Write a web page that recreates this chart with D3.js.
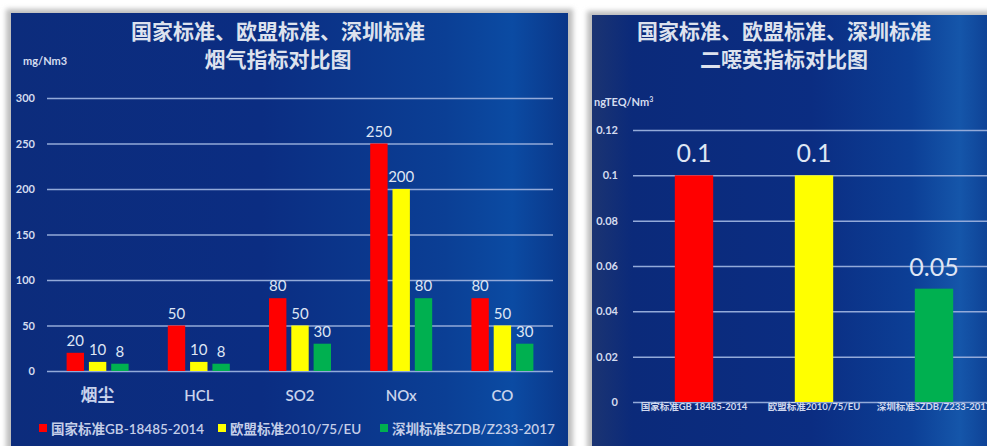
<!DOCTYPE html>
<html>
<head>
<meta charset="utf-8">
<script src="https://cdn.jsdelivr.net/npm/d3@7"></script>
<style>
  body { margin: 0; background: #ffffff; }
  svg { display: block; }
  text { font-family: "Lato", "Noto Sans CJK SC", sans-serif; }
</style>
</head>
<body>
<svg id="chart" width="987" height="446"></svg>
<script>
// flue gas chart data
const categories = ["烟尘", "HCL", "SO2", "NOx", "CO"];
const seriesNames = ["国家标准GB-18485-2014", "欧盟标准2010/75/EU", "深圳标准SZDB/Z233-2017"];
const nationalValues = [20, 50, 80, 250, 80];
const euValues = [10, 10, 50, 200, 50];
const shenzhenValues = [8, 8, 30, 80, 30];
const flueTicks = [0, 50, 100, 150, 200, 250, 300];

// dioxin chart data
const dioxinCategories = ["国家标准GB 18485-2014", "欧盟标准2010/75/EU", "深圳标准SZDB/Z233-2017"];
const dioxinValues = [0.1, 0.1, 0.05];
const dioxinTicks = [0, 0.02, 0.04, 0.06, 0.08, 0.1, 0.12];

const colors = ["#ff0000", "#ffff00", "#00b050"];
const gridColor = "#93aad9";
const labelColor = "#dfe6f4";

const svg = d3.select("#chart");
const defs = svg.append("defs");

// slide-like backgrounds
const bgLeft = defs.append("linearGradient").attr("id", "bgLeft");
[[0, "#0c2c7c"], [0.45, "#0b2d82"], [0.78, "#0b3f95"], [0.9, "#0b4ba3"], [1, "#0a3688"]]
  .forEach(([o, c]) => bgLeft.append("stop").attr("offset", o).attr("stop-color", c));
const bgRight = defs.append("linearGradient").attr("id", "bgRight");
[[0, "#1b3472"], [0.1, "#0b2a7a"], [0.55, "#0b2d82"], [0.8, "#0c3f96"], [0.92, "#1556aa"], [1, "#0d3f93"]]
  .forEach(([o, c]) => bgRight.append("stop").attr("offset", o).attr("stop-color", c));

const blur = defs.append("filter").attr("id", "shadow");
blur.append("feGaussianBlur").attr("stdDeviation", 2.5);

svg.append("rect").attr("x", 6).attr("y", 9).attr("width", 567).attr("height", 445)
  .attr("fill", "#bdbdbd").attr("filter", "url(#shadow)");
svg.append("rect").attr("x", 587).attr("y", 11).attr("width", 410).attr("height", 445)
  .attr("fill", "#bdbdbd").attr("filter", "url(#shadow)");
svg.append("rect").attr("x", 11).attr("y", 13).attr("width", 557).attr("height", 440)
  .attr("fill", "url(#bgLeft)");
svg.append("rect").attr("x", 592).attr("y", 15).attr("width", 400).attr("height", 440)
  .attr("fill", "url(#bgRight)");

function drawTitle(cx, line2) {
  const t = svg.append("text")
    .attr("text-anchor", "middle")
    .attr("fill", "#dde2ee")
    .attr("font-weight", "bold")
    .attr("font-size", 21)
    .style("font-family", "'Noto Sans CJK SC', sans-serif");
  t.append("tspan").attr("x", cx).attr("y", 39).text("国家标准、欧盟标准、深圳标准");
  t.append("tspan").attr("x", cx).attr("y", 67).text(line2);
}

function styleAxis(g) {
  g.select(".domain").remove();
  g.selectAll(".tick line").attr("stroke", gridColor).attr("stroke-width", 1.5);
  g.selectAll(".tick text").attr("fill", "#d4dcef").attr("font-weight", "bold")
    .attr("font-size", 11).style("font-family", "Lato, sans-serif");
}

// ---------- left: flue gas ----------
drawTitle(278, "烟气指标对比图");
svg.append("text").attr("x", 23).attr("y", 65).attr("fill", "#d4dcef")
  .attr("font-size", 11).attr("font-weight", "bold").text("mg/Nm3");

const yL = d3.scaleLinear().domain([0, 300]).range([371, 98]);
const x0 = d3.scaleBand().domain(categories).range([47, 553]);
const groupW = 62;
const x1 = d3.scaleBand().domain(d3.range(seriesNames.length))
  .range([(x0.bandwidth() - groupW) / 2, (x0.bandwidth() + groupW) / 2])
  .paddingInner(0.22);

svg.append("g")
  .attr("transform", "translate(47,0)")
  .call(d3.axisLeft(yL).tickValues(flueTicks).tickSize(-(553 - 47)).tickPadding(12))
  .call(styleAxis);

const series = [nationalValues, euValues, shenzhenValues];
series.forEach((vals, si) => {
  const g = svg.append("g");
  g.selectAll("rect").data(vals).join("rect")
    .attr("x", (d, i) => x0(categories[i]) + x1(si))
    .attr("y", d => yL(d))
    .attr("width", x1.bandwidth())
    .attr("height", d => yL(0) - yL(d))
    .attr("fill", colors[si]);
  g.selectAll("text").data(vals).join("text")
    .attr("x", (d, i) => x0(categories[i]) + x1(si) + x1.bandwidth() / 2)
    .attr("y", d => yL(d) - 7)
    .attr("text-anchor", "middle")
    .attr("fill", labelColor)
    .attr("font-size", 15)
    .text(d => d);
});

svg.append("g").selectAll("text").data(categories).join("text")
  .attr("x", d => x0(d) + x0.bandwidth() / 2)
  .attr("y", 401)
  .attr("text-anchor", "middle")
  .attr("fill", "#c9d3ec")
  .attr("font-weight", 600)
  .attr("font-size", d => /[A-Z]/.test(d) ? 15 : 17)
  .text(d => d);

// legend
const legendX = [39, 218, 380];
const legend = svg.append("g").selectAll("g").data(seriesNames).join("g")
  .attr("transform", (d, i) => `translate(${legendX[i]},424)`);
legend.append("rect").attr("width", 8).attr("height", 8).attr("fill", (d, i) => colors[i]);
legend.append("text").attr("x", 12).attr("y", 9.5)
  .attr("fill", "#c4cee8").attr("font-size", 13.5).attr("font-weight", 600).text(d => d);

// ---------- right: dioxin ----------
drawTitle(784, "二噁英指标对比图");
const unit = svg.append("text").attr("x", 594).attr("y", 106).attr("fill", "#d4dcef")
  .attr("font-size", 11).attr("font-weight", "bold");
unit.append("tspan").text("ngTEQ/Nm");
unit.append("tspan").attr("font-size", 7).attr("dy", -4).text("3");

const yR = d3.scaleLinear().domain([0, 0.12]).range([402, 130]);
const xR = d3.scaleBand().domain(dioxinCategories).range([634, 994])
  .paddingInner(0.68).paddingOuter(0.34);

svg.append("g")
  .attr("transform", "translate(633,0)")
  .call(d3.axisLeft(yR).tickValues(dioxinTicks).tickSize(-(987 - 633)).tickPadding(15)
    .tickFormat(d => d === 0 ? "0" : d3.format("")(+d.toFixed(2))))
  .call(styleAxis);

svg.append("g").selectAll("rect").data(dioxinValues).join("rect")
  .attr("x", (d, i) => xR(dioxinCategories[i]))
  .attr("y", d => yR(d))
  .attr("width", xR.bandwidth())
  .attr("height", d => yR(0) - yR(d))
  .attr("fill", (d, i) => colors[i]);

svg.append("g").selectAll("text").data(dioxinValues).join("text")
  .attr("x", (d, i) => xR(dioxinCategories[i]) + xR.bandwidth() / 2)
  .attr("y", d => yR(d) - 13)
  .attr("text-anchor", "middle")
  .attr("fill", labelColor)
  .attr("font-size", 25)
  .text(d => d);

svg.append("g").selectAll("text").data(dioxinCategories).join("text")
  .attr("x", d => xR(d) + xR.bandwidth() / 2)
  .attr("y", 410)
  .attr("text-anchor", "middle")
  .attr("fill", "#d0d8ee")
  .attr("font-size", 9.5)
  .attr("font-weight", "bold")
  .text(d => d);
</script>
</body>
</html>
